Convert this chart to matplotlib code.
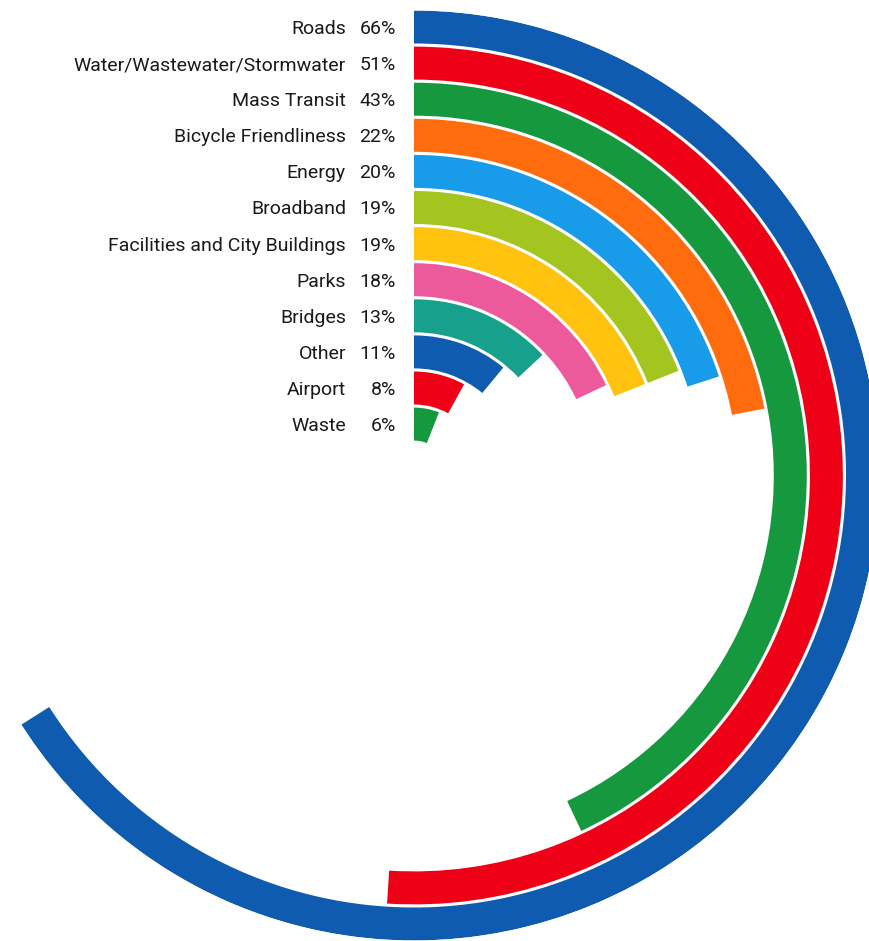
import numpy as np
import matplotlib
matplotlib.use('Agg')
import matplotlib.pyplot as plt
from matplotlib.transforms import ScaledTranslation

# Share of respondents naming each infrastructure category (%)
categories = ['Roads', 'Water/Wastewater/Stormwater', 'Mass Transit', 'Bicycle Friendliness',
              'Energy', 'Broadband', 'Facilities and City Buildings', 'Parks', 'Bridges',
              'Other', 'Airport', 'Waste']
values = [66, 51, 43, 22, 20, 19, 19, 18, 13, 11, 8, 6]
colors = ['#0f5bb0', '#ee0016', '#16983e', '#ff6c0e', '#189ce9', '#a4c520',
          '#ffc20e', '#ec5a9b', '#17a08c', '#0f5bb0', '#ee0016', '#16983e']

plt.rcParams['font.family'] = ['Roboto', 'DejaVu Sans']

W, H = 870, 941
fig = plt.figure(figsize=(W / 100, H / 100), dpi=100)

# polar axes centred at pixel (414, 475.5), outer radius 465 px
cx, cy, R = 414, 475.5, 465
ax = fig.add_axes([(cx - R) / W, (H - cy - R) / H, 2 * R / W, 2 * R / H], projection='polar')
ax.set_theta_zero_location('N')
ax.set_theta_direction(-1)
ax.set_ylim(0, R)
ax.axis('off')

pitch = 36.1
band = 33.0
outer = R - pitch * np.arange(len(values))
inner = outer - band
theta = np.array(values) / 100 * 2 * np.pi

ax.bar(np.zeros(len(values)), band, width=theta, bottom=inner, align='edge',
       color=colors, edgecolor='none', linewidth=0)

# labels sit left of the ring starts, a touch below ring centre
mid = inner + band / 2
name_off = ScaledTranslation(-68 / 100, -2 / 100, fig.dpi_scale_trans)
pct_off = ScaledTranslation(-18 / 100, -2 / 100, fig.dpi_scale_trans)
for cat, v, r in zip(categories, values, mid):
    ax.text(0, r, cat, transform=ax.transData + name_off, ha='right', va='center',
            fontsize=14, color='#1a1a1a')
    ax.text(0, r, f'{v}%', transform=ax.transData + pct_off, ha='right', va='center',
            fontsize=14, color='#1a1a1a')

fig.savefig('out.png', dpi=100)
